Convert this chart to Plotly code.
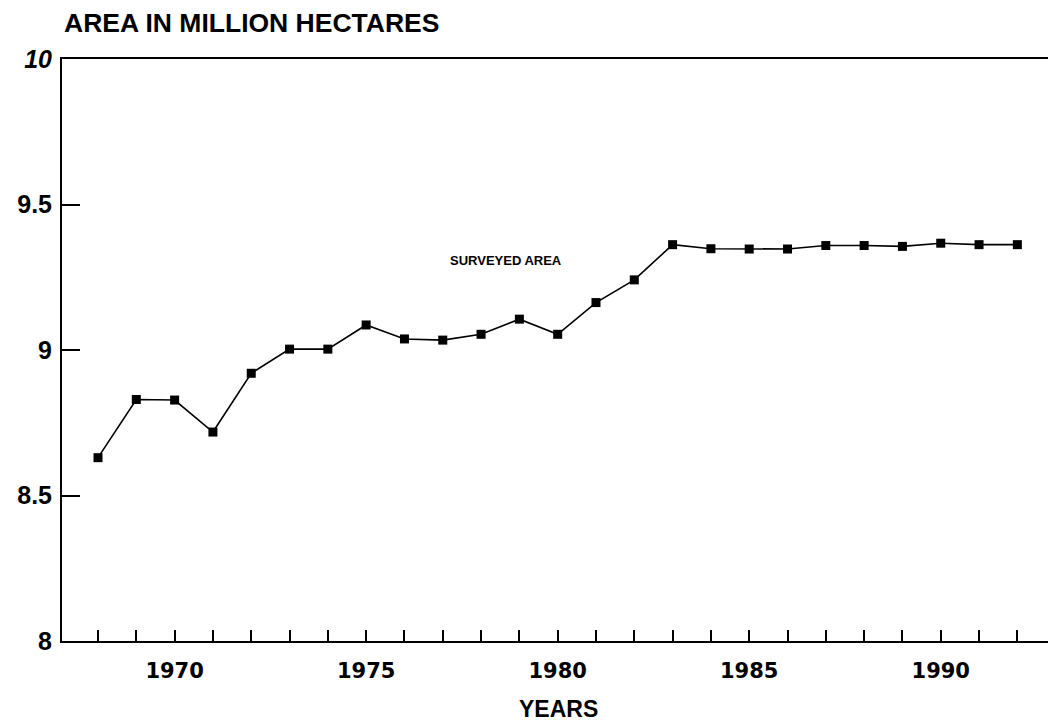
import plotly.graph_objects as go

years = list(range(1968, 1993))
surveyed_area = [8.63, 8.83, 8.828, 8.718, 8.92, 9.003, 9.003, 9.086, 9.038, 9.034,
                 9.054, 9.106, 9.054, 9.163, 9.241, 9.362, 9.348, 9.347, 9.347, 9.359,
                 9.359, 9.356, 9.367, 9.362, 9.362]
x_tick_vals = years
x_tick_text = [str(y) if y % 5 == 0 else "" for y in years]
y_tick_vals = [8, 8.5, 9, 9.5, 10]
y_tick_text = ["8", "8.5", "9", "9.5", "<i>10</i>"]

fig = go.Figure()
fig.add_trace(go.Scatter(
    x=years, y=surveyed_area, mode="lines+markers",
    line=dict(color="black", width=1.6),
    marker=dict(symbol="square", size=9, color="black"),
    showlegend=False, hoverinfo="skip"))

fig.update_layout(
    width=1048, height=724,
    margin=dict(l=62, r=0, t=59, b=83),
    paper_bgcolor="white", plot_bgcolor="white",
    xaxis=dict(range=[1967.06, 1992.8], tickvals=x_tick_vals, ticktext=x_tick_text,
               ticks="inside", ticklen=11, tickwidth=1.5, tickcolor="black",
               showline=True, linecolor="black", linewidth=2, mirror=True,
               showgrid=False, zeroline=False,
               tickfont=dict(family="DejaVu Sans", size=21, color="black", weight="bold"),
               ticklabelstandoff=10),
    yaxis=dict(range=[8, 10], tickvals=y_tick_vals, ticktext=y_tick_text,
               ticks="inside", ticklen=18, tickwidth=2, tickcolor="black",
               showline=True, linecolor="black", linewidth=2,
               showgrid=False, zeroline=False,
               tickfont=dict(family="Liberation Sans", size=25, color="black", weight="bold"),
               ticklabelstandoff=3),
    annotations=[
        dict(text="AREA IN MILLION HECTARES", xref="paper", yref="paper", x=0, y=1,
             xanchor="left", yanchor="middle", yshift=36, showarrow=False,
             font=dict(family="Liberation Sans", size=26.5, color="black", weight="bold")),
        dict(text="YEARS", xref="paper", yref="paper", x=0.504, y=0,
             xanchor="center", yanchor="middle", yshift=-68, showarrow=False,
             font=dict(family="Liberation Sans", size=23, color="black", weight="bold")),
        dict(text="SURVEYED AREA", xref="x", yref="y", x=1978.64, y=9.306,
             xanchor="center", yanchor="middle", showarrow=False,
             font=dict(family="Liberation Sans", size=13, color="black", weight="bold")),
    ],
)

fig.write_html("out.html", config={"displayModeBar": False},
               post_script="document.body.style.margin='0';document.body.style.overflow='hidden';")
